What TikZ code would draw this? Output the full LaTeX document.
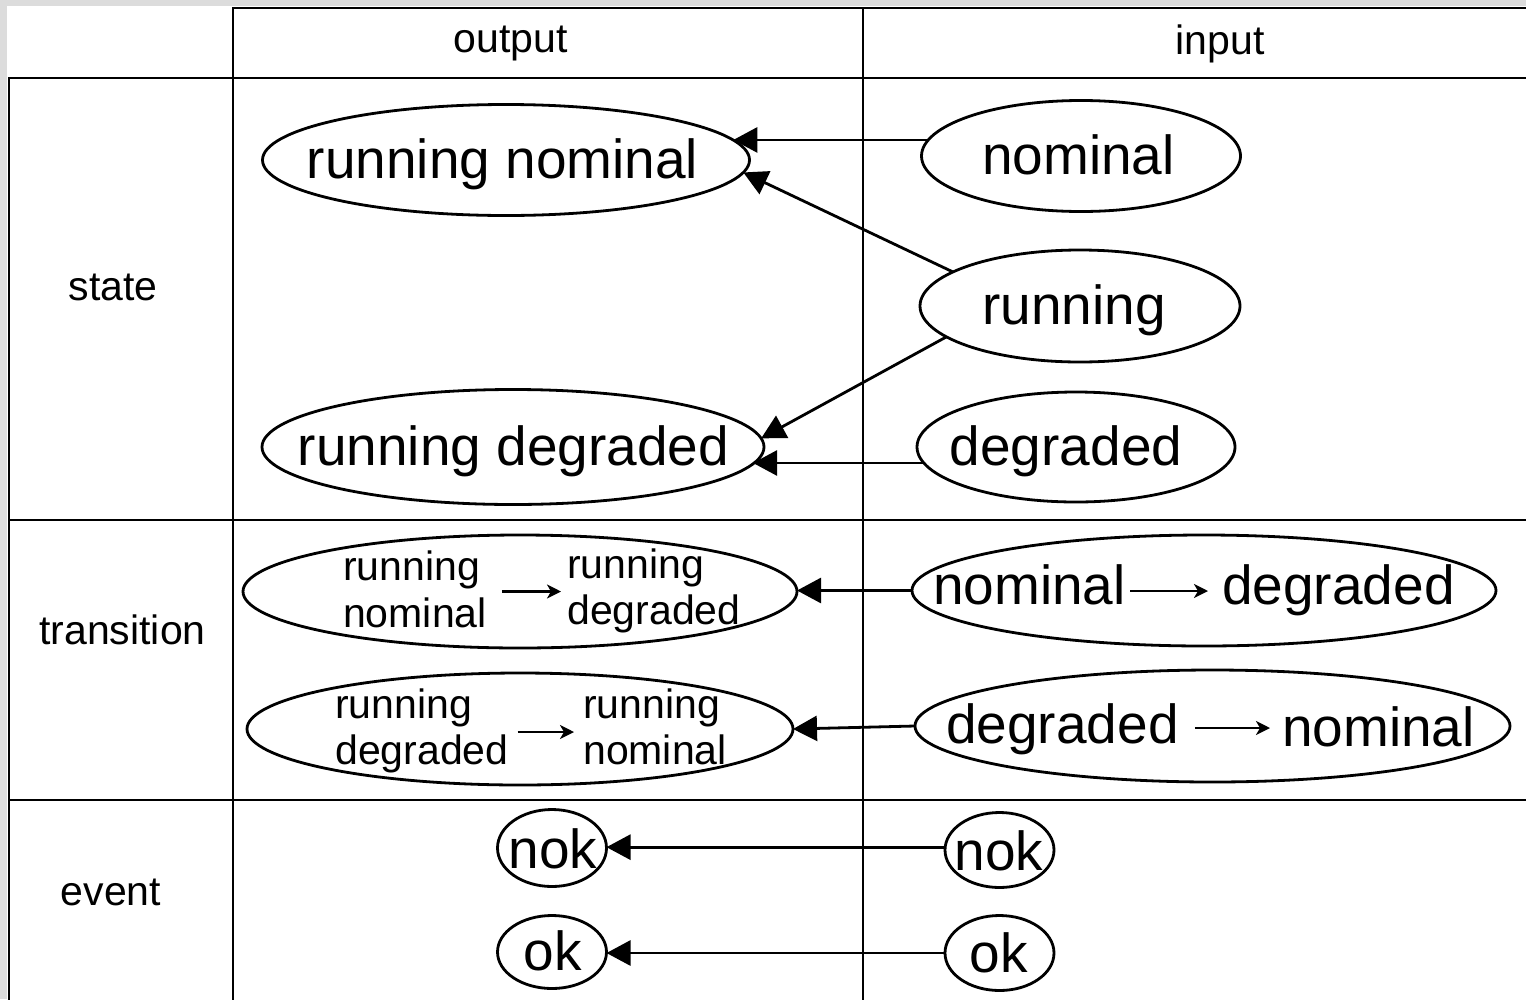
\documentclass[tikz,border=0pt]{standalone}
\usepackage{fontspec}
\setmainfont{Liberation Sans}
\usetikzlibrary{arrows.meta,shapes.geometric,calc}
\definecolor{bggray}{HTML}{DCDCDC}
\begin{document}
\begin{tikzpicture}[x=1pt,y=-1pt,
  grid/.style={line width=2.8pt, line cap=rect},
  oval/.style 2 args={draw, ellipse, line width=2.8pt, inner sep=0pt, outer sep=0pt, minimum width=#1pt, minimum height=#2pt},
  big/.style={font=\fontsize{55}{60}\selectfont, inner sep=0pt, anchor=base},
  bigw/.style={font=\fontsize{55}{60}\selectfont, inner sep=0pt, anchor=base west},
  mid/.style={font=\fontsize{41}{47}\selectfont, inner sep=0pt, anchor=base},
  small/.style={font=\fontsize{41}{47}\selectfont, inner sep=0pt, anchor=base west},
  arr/.style={line width=2.8pt, -{Triangle[length=24pt,width=25pt]}},
  inarr/.style={line width=2.6pt, -{Stealth[length=14pt,width=14pt,inset=4pt]}}
]
\useasboundingbox (0,0) rectangle (1526,999);
\fill[bggray] (0,0) rectangle (1526,999);
\fill[white] (7,6) rectangle (1526,999);

% table grid
\draw[grid] (233,8) -- (1526,8);
\draw[grid] (9,78) -- (1526,78);
\draw[grid] (9,520) -- (1526,520);
\draw[grid] (9,800) -- (1526,800);
\draw[grid] (9,78) -- (9,999);
\draw[grid] (233,8) -- (233,999);
\draw[grid] (863,8) -- (863,999);

% headers
\node[mid] (hOut) at (510.5,52) {output};
\node[mid] (hIn) at (1220,54) {input};
\node[mid] (hState) at (113,300) {state};
\node[mid] (hTrans) at (122.5,644) {transition};
\node[mid] (hEvent) at (111,905) {event};

% state ellipses
\node[oval={487}{111}] (rnOut) at (506,160) {};
\node[big] (rnOutT) at (502.5,178) {running nominal};
\node[oval={502}{115}] (rdOut) at (513,447) {};
\node[big] (rdOutT) at (513.5,465) {running degraded};
\node[oval={319}{111}] (nomIn) at (1081,156) {};
\node[big] (nomInT) at (1078.5,174) {nominal};
\node[oval={320}{112}] (runIn) at (1080,306) {};
\node[big] (runInT) at (1074,324) {running};
\node[oval={318}{110}] (degIn) at (1076,447) {};
\node[big] (degInT) at (1066,465) {degraded};

% transition ellipses (output)
\node[oval={554}{113}] (t1Out) at (520,591.5) {};
\node[small] (t1a1) at (343,580) {running};
\node[small] (t1a2) at (343,627) {nominal};
\node[small] (t1b1) at (567,578) {running};
\node[small] (t1b2) at (567,624) {degraded};
\draw[inarr] ($(t1a2.east |- t1Out.center)+(15,0)$) -- ($(t1b1.west |- t1Out.center)+(-6,0)$);

\node[oval={546}{112}] (t2Out) at (520,729) {};
\node[small] (t2a1) at (335,718) {running};
\node[small] (t2a2) at (335,764) {degraded};
\node[small] (t2b1) at (583,718) {running};
\node[small] (t2b2) at (583,764) {nominal};
\draw[inarr] ($(t2a2.east |- t2Out.center)+(9,3)$) -- ($(t2b1.west |- t2Out.center)+(-9,3)$);

% transition ellipses (input)
\node[oval={584}{111}] (t1In) at (1204,590.5) {};
\node[bigw] (t1c) at (933,604) {nominal};
\node[bigw] (t1d) at (1222,604) {degraded};
\draw[inarr] ($(t1c.east |- t1In.center)+(4,0.5)$) -- ($(t1d.west |- t1In.center)+(-14,0.5)$);

\node[oval={595}{112}] (t2In) at (1212.5,726) {};
\node[bigw] (t2c) at (946,743) {degraded};
\node[bigw] (t2d) at (1282,746) {nominal};
\draw[inarr] ($(t2c.east |- t2In.center)+(16,2)$) -- ($(t2d.west |- t2In.center)+(-12,2)$);

% events
\node[oval={109}{77}] (nokOut) at (552,848) {};
\node[big] (nokOutT) at (553,868) {nok};
\node[oval={109}{73}] (okOut) at (552,952) {};
\node[big] (okOutT) at (553,970) {ok};
\node[oval={109}{75}] (nokIn) at (999.5,850) {};
\node[big] (nokInT) at (999,870) {nok};
\node[oval={109}{75}] (okIn) at (999.5,953) {};
\node[big] (okInT) at (999,972) {ok};

% connectors
\draw[arr] (nomIn.174) -- (rnOut.5 |- nomIn.174);
\draw[arr] (runIn.165) -- (rnOut.-3);
\draw[arr] (runIn.193) -- (rdOut.2);
\draw[arr] (degIn.186) -- (rdOut.-4 |- degIn.186);
\draw[arr] (t1In.west) -- (t1Out.east |- t1In.west);
\draw[arr] (t2In.west) -- (t2Out.east);
\draw[arr] (nokIn.177) -- (nokOut.east |- nokIn.177);
\draw[arr] (okIn.west) -- (okOut.east |- okIn.west);
\end{tikzpicture}
\end{document}
